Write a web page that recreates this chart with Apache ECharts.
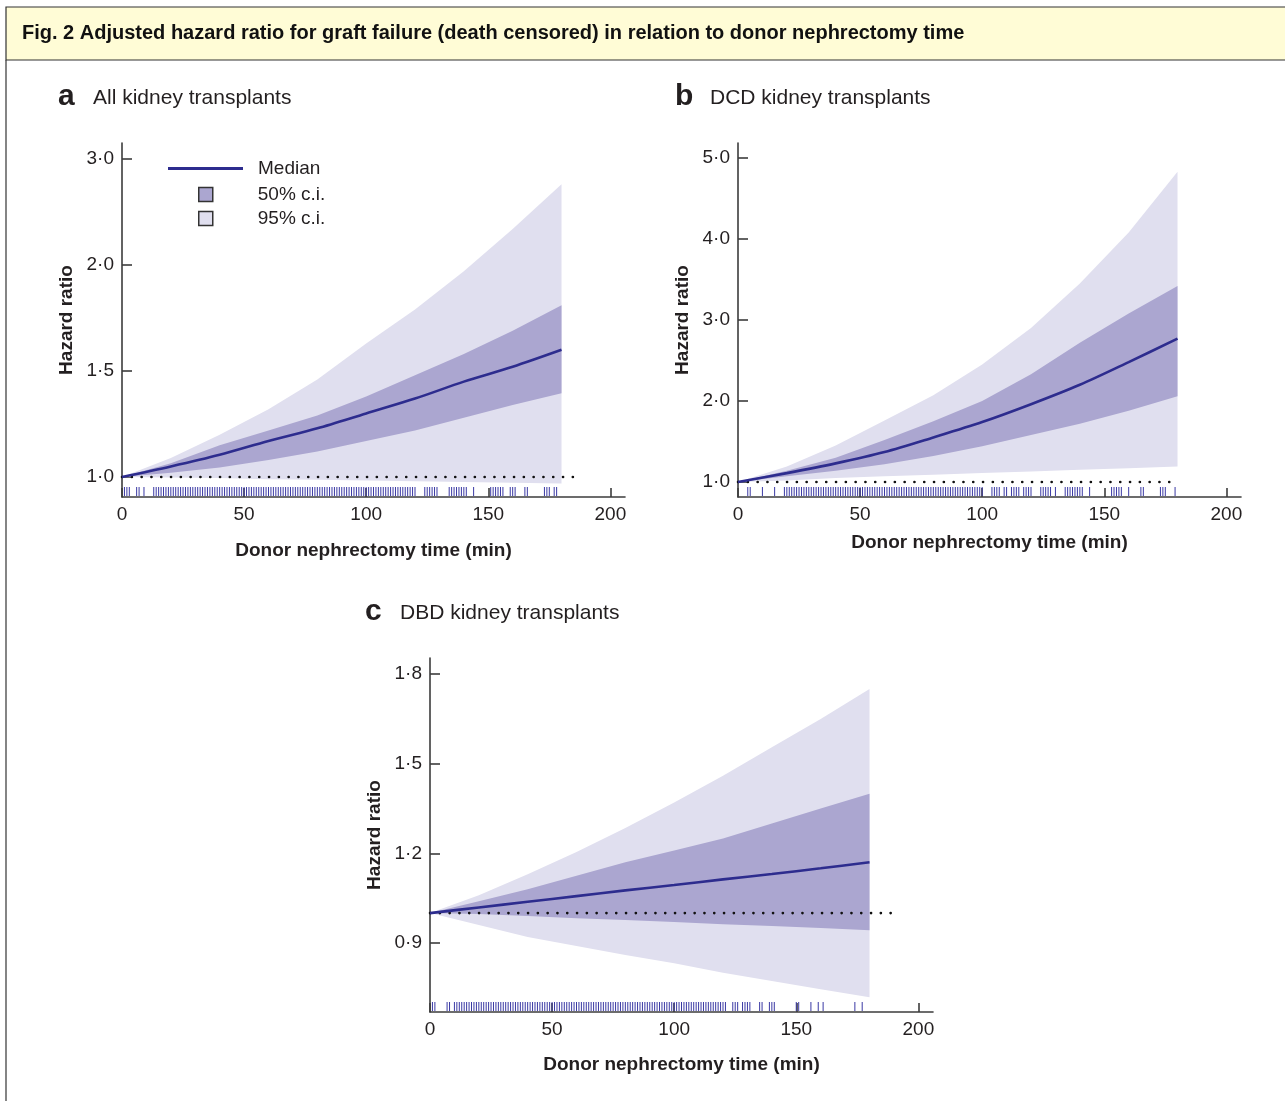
<!DOCTYPE html>
<html>
<head>
<meta charset="utf-8">
<title>Fig. 2 Adjusted hazard ratio for graft failure</title>
<script src="https://cdn.jsdelivr.net/npm/echarts@6/dist/echarts.min.js"></script>
<style>
  html, body { margin: 0; padding: 0; background: #fff; }
  #chart { width: 1285px; height: 1101px; }
</style>
</head>
<body>
<div id="chart"></div>
<script>
var times = [0, 20, 40, 60, 80, 100, 120, 140, 160, 180];

// a: all kidney transplants
var medianA = [1.0, 1.05, 1.105, 1.17, 1.23, 1.30, 1.37, 1.45, 1.52, 1.60];
var lo50A = [1.0, 1.02, 1.045, 1.08, 1.12, 1.17, 1.22, 1.28, 1.34, 1.395];
var hi50A = [1.0, 1.065, 1.15, 1.22, 1.29, 1.38, 1.48, 1.58, 1.69, 1.81];
var lo95A = [1.0, 0.998, 0.995, 0.99, 0.987, 0.984, 0.98, 0.977, 0.973, 0.97];
var hi95A = [1.0, 1.09, 1.20, 1.32, 1.46, 1.63, 1.79, 1.97, 2.17, 2.38];
var rugA = [1, 2, 3, 6, 7, 9,
  13, 14, 15, 16, 17, 18, 19, 20, 21, 22, 23, 24, 25, 26, 27, 28, 29, 30, 31, 32, 33, 34, 35, 36,
  37, 38, 39, 40, 41, 42, 43, 44, 45, 46, 47, 48, 49, 50, 51, 52, 53, 54, 55, 56, 57, 58, 59, 60,
  61, 62, 63, 64, 65, 66, 67, 68, 69, 70, 71, 72, 73, 74, 75, 76, 77, 78, 79, 80, 81, 82, 83, 84,
  85, 86, 87, 88, 89, 90, 91, 92, 93, 94, 95, 96, 97, 98, 99, 100, 101, 102, 103, 104, 105, 106,
  107, 108, 109, 110, 111, 112, 113, 114, 115, 116, 117, 118, 119, 120,
  124, 125, 126, 127, 128, 129, 134, 135, 136, 137, 138, 139, 140, 141, 144,
  151, 152, 153, 154, 155, 156, 159, 160, 161, 165, 166, 173, 174, 175, 177, 178];
var refLineA = [0, 187];
var yTicksA = [1.0, 1.5, 2.0, 2.5];
var yLabelsA = ['1·0', '1·5', '2·0', '3·0'];

// b: DCD kidney transplants
var medianB = [1.0, 1.11, 1.23, 1.37, 1.55, 1.74, 1.96, 2.20, 2.48, 2.77];
var lo50B = [1.0, 1.07, 1.14, 1.22, 1.32, 1.44, 1.58, 1.72, 1.88, 2.06];
var hi50B = [1.0, 1.14, 1.30, 1.52, 1.75, 2.00, 2.33, 2.72, 3.08, 3.42];
var lo95B = [1.0, 1.02, 1.05, 1.07, 1.09, 1.11, 1.13, 1.15, 1.17, 1.19];
var hi95B = [1.0, 1.19, 1.45, 1.76, 2.07, 2.45, 2.90, 3.45, 4.08, 4.83];
var rugB = [4, 5, 10, 15,
  19, 20, 21, 22, 23, 24, 25, 26, 27, 28, 29, 30, 31, 32, 33, 34, 35, 36, 37, 38, 39, 40, 41, 42,
  43, 44, 45, 46, 47, 48, 49, 50, 51, 52, 53, 54, 55, 56, 57, 58, 59, 60, 61, 62, 63, 64, 65, 66,
  67, 68, 69, 70, 71, 72, 73, 74, 75, 76, 77, 78, 79, 80, 81, 82, 83, 84, 85, 86, 87, 88, 89, 90,
  91, 92, 93, 94, 95, 96, 97, 98, 99, 100,
  104, 105, 106, 107, 109, 110, 112, 113, 114, 115, 117, 118, 119, 120,
  124, 125, 126, 127, 128, 130, 134, 135, 136, 137, 138, 139, 140, 141, 144,
  153, 154, 155, 156, 157, 160, 165, 166, 173, 174, 175, 179];
var refLineB = [0, 179];
var yTicksB = [1, 2, 3, 4, 5];
var yLabelsB = ['1·0', '2·0', '3·0', '4·0', '5·0'];

// c: DBD kidney transplants
var medianC = [1.0, 1.019, 1.038, 1.057, 1.076, 1.094, 1.113, 1.131, 1.15, 1.17];
var lo50C = [1.0, 0.997, 0.99, 0.983, 0.977, 0.97, 0.963, 0.957, 0.95, 0.943];
var hi50C = [1.0, 1.04, 1.08, 1.125, 1.17, 1.21, 1.25, 1.30, 1.35, 1.40];
var lo95C = [1.0, 0.96, 0.92, 0.89, 0.86, 0.832, 0.80, 0.773, 0.745, 0.718];
var hi95C = [1.0, 1.06, 1.13, 1.205, 1.285, 1.37, 1.46, 1.555, 1.65, 1.75];
var rugC = [1, 2, 7, 8, 10,
  11, 12, 13, 14, 15, 16, 17, 18, 19, 20, 21, 22, 23, 24, 25, 26, 27, 28, 29, 30, 31, 32, 33, 34,
  35, 36, 37, 38, 39, 40, 41, 42, 43, 44, 45, 46, 47, 48, 49, 50, 51, 52, 53, 54, 55, 56, 57, 58,
  59, 60, 61, 62, 63, 64, 65, 66, 67, 68, 69, 70, 71, 72, 73, 74, 75, 76, 77, 78, 79, 80, 81, 82,
  83, 84, 85, 86, 87, 88, 89, 90, 91, 92, 93, 94, 95, 96, 97, 98, 99, 100, 101, 102, 103, 104,
  105, 106, 107, 108, 109, 110, 111, 112, 113, 114, 115, 116, 117, 118, 119, 120, 121,
  124, 125, 126, 128, 129, 130, 131, 135, 136, 139, 140, 141, 150, 151, 156, 159, 161, 174, 177];
var refLineC = [0, 190];
var yTicksC = [0.9, 1.2, 1.5, 1.8];
var yLabelsC = ['0·9', '1·2', '1·5', '1·8'];

var xTicks = [0, 50, 100, 150, 200];

var font = '"Liberation Sans", Arial, Helvetica, sans-serif';
var ink = '#231f20';
var axisInk = '#3c3c3c';
var medianColor = '#2d2c8e';
var band50 = '#aba6d0';
var band95 = '#e0dfef';
var rugColor = '#3a39a4';

(function() {
  var chart = echarts.init(document.getElementById('chart'), null, { renderer: 'canvas' });

  function zip(xs, ys) {
    return xs.map(function(x, i) { return [x, ys[i]]; });
  }

  function tickLabel(ticks, labels) {
    return function(v) {
      for (var i = 0; i < ticks.length; i++) {
        if (Math.abs(ticks[i] - v) < 1e-6) return labels[i];
      }
      return '';
    };
  }

  function bandSeries(idx, name, lo, hi, color, z) {
    return {
      type: 'custom',
      name: name,
      xAxisIndex: idx,
      yAxisIndex: idx,
      silent: true,
      z: z,
      itemStyle: { color: color },
      data: [[0, 1]],
      renderItem: function(params, api) {
        var pts = [];
        for (var i = 0; i < times.length; i++) pts.push(api.coord([times[i], hi[i]]));
        for (var j = times.length - 1; j >= 0; j--) pts.push(api.coord([times[j], lo[j]]));
        return { type: 'polygon', shape: { points: pts }, style: { fill: color } };
      }
    };
  }

  function rugSeries(idx, rug) {
    return {
      type: 'custom',
      name: 'rug',
      xAxisIndex: idx,
      yAxisIndex: idx,
      silent: true,
      z: 4,
      data: rug.map(function(t) { return [t, 1]; }),
      renderItem: function(params, api) {
        var x = api.coord([api.value(0), 1])[0];
        var bottom = params.coordSys.y + params.coordSys.height;
        return {
          type: 'line',
          shape: { x1: x, y1: bottom - 1, x2: x, y2: bottom - 10 },
          style: { stroke: rugColor, lineWidth: 1 }
        };
      }
    };
  }

  function panelSeries(idx, med, lo50, hi50, lo95, hi95, rug, ref) {
    return [
      bandSeries(idx, '95% c.i.', lo95, hi95, band95, 1),
      bandSeries(idx, '50% c.i.', lo50, hi50, band50, 2),
      {
        type: 'line', name: 'ref', xAxisIndex: idx, yAxisIndex: idx,
        data: [[ref[0], 1], [ref[1], 1]],
        symbol: 'none', silent: true, z: 3,
        lineStyle: { color: '#111', width: 2.6, type: [0.1, 9.7], cap: 'round' }
      },
      {
        type: 'line', name: 'Median', xAxisIndex: idx, yAxisIndex: idx,
        data: zip(times, med), smooth: 0.3,
        symbol: 'none', silent: true, z: 5,
        itemStyle: { color: medianColor },
        lineStyle: { color: medianColor, width: 2.6 }
      },
      rugSeries(idx, rug)
    ];
  }

  function xAxis(idx, gap) {
    return {
      type: 'value', gridIndex: idx, min: 0, max: 206,
      name: 'Donor nephrectomy time (min)',
      nameLocation: 'middle', nameGap: gap,
      nameTextStyle: { fontFamily: font, fontSize: 19, fontWeight: 'bold', color: ink },
      axisLine: { lineStyle: { color: axisInk, width: 1.6 } },
      axisTick: { inside: true, length: 9, customValues: xTicks, lineStyle: { color: axisInk, width: 1.6 } },
      axisLabel: { customValues: xTicks, margin: 8, fontFamily: font, fontSize: 19, color: ink },
      splitLine: { show: false }
    };
  }

  function yAxis(idx, min, max, ticks, labels) {
    return {
      type: 'value', gridIndex: idx, min: min, max: max,
      name: 'Hazard ratio',
      nameLocation: 'middle', nameGap: 46,
      nameTextStyle: { fontFamily: font, fontSize: 19, fontWeight: 'bold', color: ink },
      axisLine: { show: true, lineStyle: { color: axisInk, width: 1.6 } },
      axisTick: { show: true, inside: true, length: 10, customValues: ticks, lineStyle: { color: axisInk, width: 1.6 } },
      axisLabel: { customValues: ticks, margin: 8, fontFamily: font, fontSize: 19, color: ink,
        formatter: tickLabel(ticks, labels) },
      splitLine: { show: false }
    };
  }

  function panelTitle(x, y, letter, text) {
    return [
      { type: 'text', left: x, top: y, style: { text: letter, font: 'bold 30px ' + font, fill: ink } },
      { type: 'text', left: x + 35, top: y + 6, style: { text: text, font: '21px ' + font, fill: ink } }
    ];
  }

  var graphics = [
    { type: 'rect', shape: { x: 6, y: 7, width: 1290, height: 53 },
      style: { fill: '#fffcd6', stroke: '#333', lineWidth: 1.2 } },
    { type: 'line', shape: { x1: 6, y1: 60, x2: 6, y2: 1101 }, style: { stroke: '#333', lineWidth: 1.2 } },
    { type: 'text', left: 22, top: 23,
      style: { text: 'Fig. 2 Adjusted hazard ratio for graft failure (death censored) in relation to donor nephrectomy time',
        font: 'bold 20px ' + font, fill: '#111' } }
  ].concat(panelTitle(58, 82, 'a', 'All kidney transplants'))
   .concat(panelTitle(675, 82, 'b', 'DCD kidney transplants'))
   .concat(panelTitle(365, 597, 'c', 'DBD kidney transplants'));

  chart.setOption({
    animation: false,
    backgroundColor: '#fff',
    textStyle: { fontFamily: font },
    grid: [
      { left: 122, top: 143, width: 503, height: 354, outerBoundsMode: 'none' },
      { left: 738, top: 143, width: 503, height: 354, outerBoundsMode: 'none' },
      { left: 430, top: 658, width: 503, height: 354, outerBoundsMode: 'none' }
    ],
    xAxis: [xAxis(0, 44), xAxis(1, 36), xAxis(2, 43)],
    yAxis: [
      yAxis(0, 0.906, 2.575, yTicksA, yLabelsA),
      yAxis(1, 0.815, 5.185, yTicksB, yLabelsB),
      yAxis(2, 0.669, 1.854, yTicksC, yLabelsC)
    ],
    legend: [
      {
        data: ['Median'], left: 163, top: 154, selectedMode: false,
        icon: 'rect', itemWidth: 75, itemHeight: 3,
        formatter: '{t|{name}}',
        textStyle: { color: ink, fontSize: 19, fontFamily: font,
          rich: { t: { padding: [0, 0, 0, 10], fontSize: 19, fontFamily: font, color: ink } } }
      },
      {
        data: ['50% c.i.', '95% c.i.'], left: 193, top: 180, orient: 'vertical', selectedMode: false,
        icon: 'rect', itemWidth: 14, itemHeight: 14, itemGap: 5,
        itemStyle: { borderColor: '#333', borderWidth: 1.5 },
        formatter: '{t|{name}}',
        textStyle: { color: ink, fontSize: 19, fontFamily: font,
          rich: { t: { padding: [0, 0, 0, 40], fontSize: 19, fontFamily: font, color: ink } } }
      }
    ],
    graphic: graphics,
    series: []
      .concat(panelSeries(0, medianA, lo50A, hi50A, lo95A, hi95A, rugA, refLineA))
      .concat(panelSeries(1, medianB, lo50B, hi50B, lo95B, hi95B, rugB, refLineB))
      .concat(panelSeries(2, medianC, lo50C, hi50C, lo95C, hi95C, rugC, refLineC))
  });

  window.addEventListener('resize', function() { chart.resize(); });
})();
</script>
</body>
</html>
